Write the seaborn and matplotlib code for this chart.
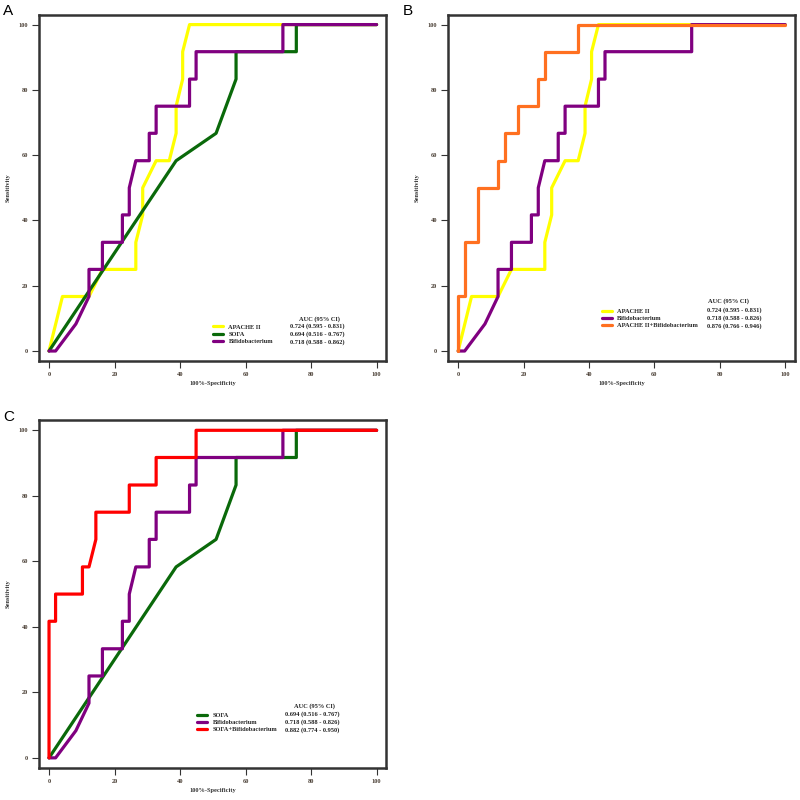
import numpy as np
import pandas as pd
import matplotlib
matplotlib.use('Agg')
import matplotlib.pyplot as plt
import seaborn as sns

sns.set_theme(style='white')
plt.rcParams['font.family'] = ['Liberation Serif', 'DejaVu Serif']

# ROC points (100%-Specificity, Sensitivity)
apache_x = [0, 4.1, 12.2, 16.3, 26.5, 26.5, 28.6, 28.6, 32.7, 36.7, 38.8, 38.8, 40.8, 40.8, 42.9, 100]
apache_y = [0, 16.7, 16.7, 25, 25, 33.3, 41.7, 50, 58.3, 58.3, 66.7, 75, 83.3, 91.7, 100, 100]

sofa_x = [0, 38.8, 51.0, 57.1, 57.1, 75.5, 75.5, 100]
sofa_y = [0, 58.3, 66.7, 83.3, 91.7, 91.7, 100, 100]

bifido_x = [0, 2.0, 8.2, 12.2, 12.2, 16.3, 16.3, 22.4, 22.4, 24.5, 24.5, 26.5, 30.6, 30.6,
            32.7, 32.7, 42.9, 42.9, 44.9, 44.9, 71.4, 71.4, 100]
bifido_y = [0, 0, 8.3, 16.7, 25, 25, 33.3, 33.3, 41.7, 41.7, 50, 58.3, 58.3, 66.7,
            66.7, 75, 75, 83.3, 83.3, 91.7, 91.7, 100, 100]

apache_bifido_x = [0, 0, 2.0, 2.0, 6.1, 6.1, 12.2, 12.2, 14.3, 14.3, 18.4, 18.4, 24.5, 24.5,
                   26.5, 26.5, 36.7, 36.7, 100]
apache_bifido_y = [0, 16.7, 16.7, 33.3, 33.3, 50, 50, 58.3, 58.3, 66.7, 66.7, 75, 75, 83.3,
                   83.3, 91.7, 91.7, 100, 100]

sofa_bifido_x = [0, 0, 2.0, 2.0, 10.2, 10.2, 12.2, 14.3, 14.3, 24.5, 24.5, 32.7, 32.7, 44.9, 44.9, 100]
sofa_bifido_y = [0, 41.7, 41.7, 50, 50, 58.3, 58.3, 66.7, 75, 75, 83.3, 83.3, 91.7, 91.7, 100, 100]

auc_apache = '0.724 (0.595 - 0.831)'
auc_sofa = '0.694 (0.516 - 0.767)'
auc_bifido_a = '0.718 (0.588 - 0.862)'
auc_bifido = '0.718 (0.588 - 0.826)'
auc_apache_bifido = '0.876 (0.766 - 0.946)'
auc_sofa_bifido = '0.882 (0.774 - 0.950)'

c_yellow = '#FFFF00'
c_green = '#0A690A'
c_purple = '#800080'
c_orange = '#FF7020'
c_red = '#FF0000'

ticks = [0, 20, 40, 60, 80, 100]
fs = 4.6
bold = dict(family='Liberation Serif', weight='bold', size=fs)

fig = plt.figure(figsize=(8, 8), dpi=100)
axA = fig.add_axes([0.049, 0.549, 0.434, 0.4325])
axB = fig.add_axes([0.5604, 0.549, 0.4334, 0.4325])
axC = fig.add_axes([0.049, 0.0404, 0.434, 0.434])


def draw_panel(ax, curves, aucs, leg_x, leg_y, auc_x, head_x, head_y):
    handles = []
    for xs, ys, col, name in curves:
        sns.lineplot(x=xs, y=ys, sort=False, estimator=None, color=col, lw=2.3, ax=ax)
        handles.append(ax.lines[-1])
    names = [c[3] for c in curves]
    ax.legend(handles, names, loc='center left', bbox_to_anchor=(leg_x, leg_y),
              bbox_transform=ax.transData, frameon=False, prop=bold,
              handlelength=1.6, handletextpad=0.8, labelspacing=0.25,
              borderpad=0, borderaxespad=0)
    ax.text(head_x, head_y, 'AUC (95% CI)', ha='center', va='center', fontdict=bold, color='#222')
    step = 2.45
    for i, a in enumerate(aucs):
        ax.text(auc_x, leg_y + step * (1 - i), a, ha='left', va='center', fontdict=bold, color='#222')

    ax.set_xlim(-3, 103)
    ax.set_ylim(-3, 103)
    ax.set_xticks(ticks)
    ax.set_yticks(ticks)
    ax.set_xticklabels(ticks, fontdict=bold, color='#4a3f35')
    ax.set_yticklabels(ticks, fontdict=bold, color='#4a3f35')
    ax.tick_params(direction='out', length=5, width=0.8, color='#333', pad=3,
                   bottom=True, left=True)
    ax.set_xlabel('100%-Specificity', fontdict=bold, color='#333', labelpad=3)
    ax.set_ylabel('Sensitivity', fontdict=bold, color='#333', labelpad=6)
    for s in ax.spines.values():
        s.set_color('#333')
        s.set_linewidth(1.8)


draw_panel(axA,
           [(apache_x, apache_y, c_yellow, 'APACHE II'),
            (sofa_x, sofa_y, c_green, 'SOFA'),
            (bifido_x, bifido_y, c_purple, 'Bifidobacterium')],
           [auc_apache, auc_sofa, auc_bifido_a], 50.1, 5.2, 73.7, 82.6, 9.9)

draw_panel(axB,
           [(apache_x, apache_y, c_yellow, 'APACHE II'),
            (bifido_x, bifido_y, c_purple, 'Bifidobacterium'),
            (apache_bifido_x, apache_bifido_y, c_orange, 'APACHE II+Bifidobacterium')],
           [auc_apache, auc_bifido, auc_apache_bifido], 43.9, 10.0, 76.0, 82.7, 15.3)

draw_panel(axC,
           [(sofa_x, sofa_y, c_green, 'SOFA'),
            (bifido_x, bifido_y, c_purple, 'Bifidobacterium'),
            (sofa_bifido_x, sofa_bifido_y, c_red, 'SOFA+Bifidobacterium')],
           [auc_sofa, auc_bifido, auc_sofa_bifido], 45.2, 10.8, 72.0, 81.0, 15.8)

for lab, px, py in [('A', 3, 4), ('B', 403, 4), ('C', 3, 410)]:
    fig.text(px / 800, 1 - py / 800, lab, ha='left', va='top', fontsize=11,
             family='Liberation Sans', color='black')

fig.savefig('out.png', dpi=100)
